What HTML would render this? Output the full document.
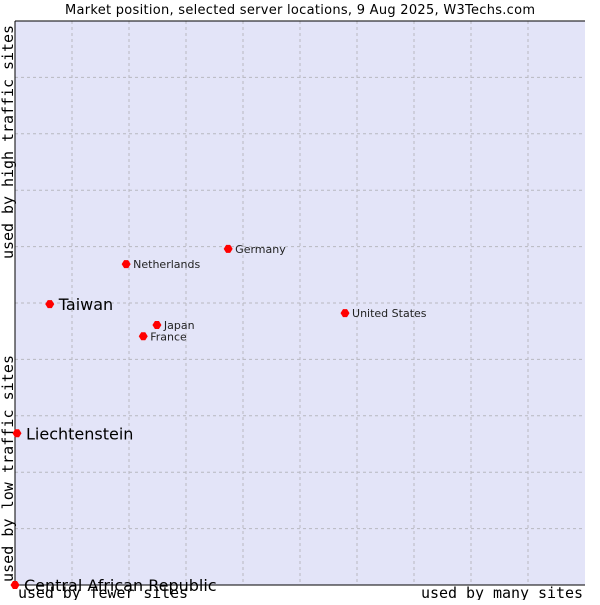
<!DOCTYPE html>
<html><head><meta charset="utf-8"><style>
body{margin:0;background:#fff;width:600px;height:600px;overflow:hidden}
svg text{font-family:"DejaVu Sans","Liberation Sans",sans-serif}
.mono{font-family:"DejaVu Sans Mono","Liberation Mono",monospace}
</style></head><body>
<svg id="chart" width="600" height="600" xmlns="http://www.w3.org/2000/svg">
<text x="300" y="14" text-anchor="middle" font-size="13" fill="#000" textLength="470">Market position, selected server locations, 9 Aug 2025, W3Techs.com</text>
<rect x="15" y="21" width="570" height="564" fill="#e3e4f8"/>
<g id="grid"></g>
<line x1="15" y1="21" x2="15" y2="585" stroke="#000"/>
<line x1="15" y1="585" x2="585" y2="585" stroke="#000"/>
<line x1="15" y1="21" x2="585" y2="21" stroke="#000"/>
<g id="points"></g>
<text class="mono" x="18" y="598" font-size="15" textLength="170">used by fewer sites</text>
<text class="mono" x="421" y="598" font-size="15" textLength="162">used by many sites</text>
<text class="mono" transform="translate(13,582) rotate(-90)" font-size="15" textLength="227">used by low traffic sites</text>
<text class="mono" transform="translate(13,259) rotate(-90)" font-size="15" textLength="234">used by high traffic sites</text>
</svg>
<script>
const countries=["Central African Republic","Liechtenstein","Taiwan","Netherlands","Germany","Japan","France","United States"];
const xValues=[0,0.35,6.1,19.5,37.4,24.9,22.5,57.9];
const yValues=[0,26.9,49.8,56.9,59.6,46.1,44.1,48.2];
const highlighted=[true,true,true,false,false,false,false,false];
const gridTicks=[10,20,30,40,50,60,70,80,90];
const NS="http://www.w3.org/2000/svg";
const X=v=>15+v*5.7, Y=v=>585-v*5.64;
const grid=document.getElementById('grid'), pts=document.getElementById('points');
gridTicks.forEach(t=>{
  let l=document.createElementNS(NS,'line');
  
  
  l.setAttribute('x1',X(t));l.setAttribute('x2',X(t));l.setAttribute('y1',21);l.setAttribute('y2',585);
  l.setAttribute('stroke','#b8b8c0');l.setAttribute('stroke-dasharray','3,3');grid.appendChild(l);
  let h=document.createElementNS(NS,'line');
  
  
  h.setAttribute('y1',Y(t));h.setAttribute('y2',Y(t));h.setAttribute('x1',15);h.setAttribute('x2',585);
  h.setAttribute('stroke','#b8b8c0');h.setAttribute('stroke-dasharray','3,3');grid.appendChild(h);
});
countries.forEach((c,i)=>{
  const cx=X(xValues[i]), cy=Y(yValues[i]);
  let p=document.createElementNS(NS,'path');
  
  
  p.setAttribute('d',`M${cx-4.5},${cy} L${cx-2},${cy-4} L${cx+2},${cy-4} L${cx+4.5},${cy} L${cx+2},${cy+4} L${cx-2},${cy+4} Z`);
  p.setAttribute('fill','#f00');pts.appendChild(p);
  let t=document.createElementNS(NS,'text');
  
  
  const big=highlighted[i];
  t.setAttribute('x',cx+(big?9:7));t.setAttribute('y',cy+(big?6:4));
  t.setAttribute('font-size',big?16:11);t.setAttribute('fill',big?'#000':'#222');
  t.textContent=c;pts.appendChild(t);
});
</script>
</body></html>
